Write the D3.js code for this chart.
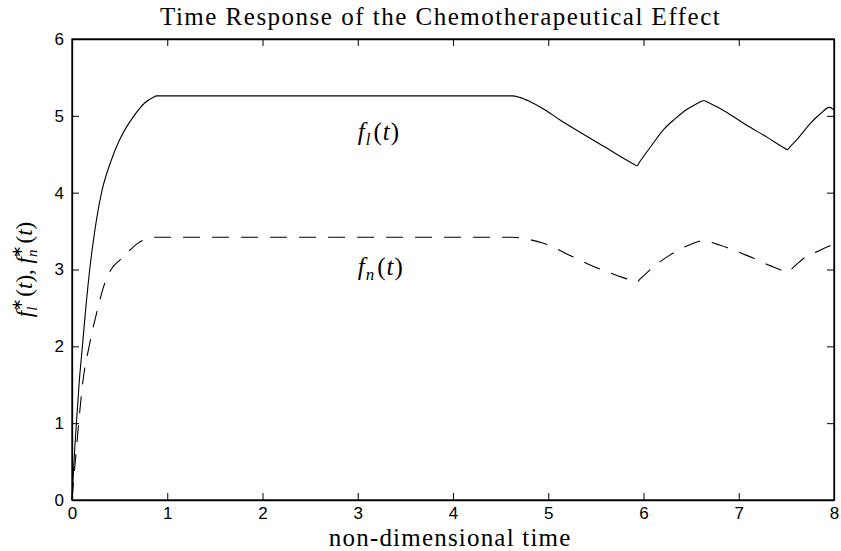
<!DOCTYPE html>
<html>
<head>
<meta charset="utf-8">
<script src="https://cdn.jsdelivr.net/npm/d3@7/dist/d3.min.js"></script>
<style>
  body { margin: 0; background: #fff; }
  svg { display: block; }
  .tick text { font-family: "Liberation Sans", Arial, sans-serif; font-size: 17px; fill: #000; }
  .serif { font-family: "Liberation Serif", "Times New Roman", serif; fill: #000; }
</style>
</head>
<body>
<svg id="chart"></svg>
<script>
// f_l(t), solid
let tL = [0, 0.015, 0.03, 0.046, 0.075, 0.109, 0.145, 0.186, 0.24, 0.31, 0.40, 0.50, 0.57, 0.64, 0.70, 0.765, 0.85, 0.89,
  4.62, 4.7, 4.8, 4.95, 5.12, 5.33, 5.6, 5.90, 5.93,
  5.96, 6.0, 6.1, 6.21, 6.33, 6.45, 6.55, 6.61, 6.635,
  6.66, 6.8, 7.08, 7.3, 7.48, 7.51,
  7.54, 7.61, 7.75, 7.86, 7.95, 8.0]
let fL = [0, 0.36, 0.70, 0.99, 1.52, 2.0, 2.5, 3.0, 3.51, 4.0, 4.38, 4.69, 4.85, 4.98, 5.08, 5.17, 5.24, 5.26,
  5.26, 5.24, 5.19, 5.09, 4.95, 4.79, 4.59, 4.37, 4.35,
  4.40, 4.47, 4.64, 4.82, 4.96, 5.08, 5.15, 5.19, 5.20,
  5.185, 5.10, 4.88, 4.72, 4.58, 4.56,
  4.60, 4.69, 4.90, 5.03, 5.11, 5.08]

// f_n(t), dashed
let tN = [0, 0.02, 0.045, 0.07, 0.116, 0.18, 0.27, 0.33, 0.41, 0.50, 0.59, 0.69, 0.79, 0.85,
  4.62, 4.8, 5.0, 5.2, 5.44, 5.68, 5.90, 5.93,
  5.96, 6.02, 6.12, 6.28, 6.39, 6.5, 6.61, 6.635,
  6.66, 6.77, 6.91, 7.03, 7.15, 7.27, 7.48, 7.51,
  7.54, 7.61, 7.71, 7.82, 7.92, 8.0]
let fN = [0, 0.3, 0.65, 1.0, 1.56, 2.0, 2.49, 2.77, 3.0, 3.12, 3.23, 3.34, 3.40, 3.42,
  3.42, 3.39, 3.32, 3.2, 3.06, 2.94, 2.845, 2.83,
  2.87, 2.94, 3.05, 3.19, 3.27, 3.33, 3.375, 3.38,
  3.375, 3.33, 3.27, 3.21, 3.15, 3.08, 2.975, 2.96,
  2.99, 3.07, 3.17, 3.23, 3.29, 3.33]

let xTicks = [0, 1, 2, 3, 4, 5, 6, 7, 8]
let yTicks = [0, 1, 2, 3, 4, 5, 6]

let width = 841, height = 551
let margin = { top: 39, right: 7, bottom: 51, left: 72 }

let svg = d3.select('#chart').attr('width', width).attr('height', height)

let x = d3.scaleLinear().domain([0, 8]).range([margin.left, width - margin.right])
let y = d3.scaleLinear().domain([0, 6]).range([height - margin.bottom, margin.top])

// axes, ticks pointing inward like matlab
let tick = 7
let fmt = d3.format('d')
svg.append('g').attr('transform', `translate(0,${y(0)})`)
  .call(d3.axisBottom(x).tickValues(xTicks).tickFormat(fmt).tickSizeInner(-tick).tickSizeOuter(0).tickPadding(7))
svg.append('g').attr('transform', `translate(0,${y(6)})`)
  .call(d3.axisTop(x).tickValues(xTicks).tickSizeInner(-tick).tickSizeOuter(0).tickFormat(''))
svg.append('g').attr('transform', `translate(${x(0)},0)`)
  .call(d3.axisLeft(y).tickValues(yTicks).tickFormat(fmt).tickSizeInner(-tick).tickSizeOuter(0).tickPadding(8))
svg.append('g').attr('transform', `translate(${x(8)},0)`)
  .call(d3.axisRight(y).tickValues(yTicks).tickSizeInner(-tick).tickSizeOuter(0).tickFormat(''))

svg.selectAll('.domain').attr('stroke', '#000').attr('stroke-width', 1.3)
svg.selectAll('.tick line').attr('stroke', '#000').attr('stroke-width', 1)

// box
svg.append('rect')
  .attr('x', x(0)).attr('y', y(6))
  .attr('width', x(8) - x(0)).attr('height', y(0) - y(6))
  .attr('fill', 'none').attr('stroke', '#000').attr('stroke-width', 1.3)

let line = d3.line().x(d => x(d[0])).y(d => y(d[1])).curve(d3.curveMonotoneX)

svg.append('path')
  .datum(d3.zip(tL, fL))
  .attr('d', line)
  .attr('fill', 'none').attr('stroke', '#000').attr('stroke-width', 1.1)
  .attr('stroke-linejoin', 'round')

svg.append('path')
  .datum(d3.zip(tN, fN))
  .attr('d', line)
  .attr('fill', 'none').attr('stroke', '#000').attr('stroke-width', 1.1)
  .attr('stroke-dasharray', '17,12')

// title and labels
svg.append('text').attr('class', 'serif')
  .attr('x', x(3.87)).attr('y', 25)
  .attr('text-anchor', 'middle').style('font-size', '25px').style('letter-spacing', '1.5px')
  .text('Time Response of the Chemotherapeutical Effect')

svg.append('text').attr('class', 'serif')
  .attr('x', x(3.97)).attr('y', 546)
  .attr('text-anchor', 'middle').style('font-size', '25px').style('letter-spacing', '1.2px')
  .text('non-dimensional time')

function fLabel(g, sub) {
  g.append('tspan').style('font-style', 'italic').text('f')
  g.append('tspan').style('font-style', 'italic').style('font-size', '17px').attr('dy', 5).text(sub)
  g.append('tspan').attr('dy', -5).attr('dx', 2).text('(')
  g.append('tspan').style('font-style', 'italic').text('t')
  g.append('tspan').text(')')
}

let lblL = svg.append('text').attr('class', 'serif').style('font-size', '25px').style('letter-spacing', '1px')
  .attr('x', x(3.0)).attr('y', y(4.69))
fLabel(lblL, 'l')
let lblN = svg.append('text').attr('class', 'serif').style('font-size', '25px').style('letter-spacing', '1px')
  .attr('x', x(3.0)).attr('y', y(2.93))
fLabel(lblN, 'n')

// y label with starred subscripts
let yl = svg.append('text').attr('class', 'serif').style('font-size', '23px')
  .attr('transform', `translate(32,${(y(0) + y(6)) / 2}) rotate(-90)`)
  .attr('text-anchor', 'middle')
function starTerm(g, sub) {
  g.append('tspan').style('font-style', 'italic').text('f')
  g.append('tspan').style('font-style', 'italic').style('font-size', '15px').attr('dy', 5).text(sub)
  g.append('tspan').style('font-size', '15px').attr('dx', sub == 'l' ? -4 : -8).attr('dy', -15).text('∗')
  g.append('tspan').attr('dy', 10).attr('dx', 1).text('(')
  g.append('tspan').style('font-style', 'italic').text('t')
  g.append('tspan').text(')')
}
starTerm(yl, 'l')
yl.append('tspan').text(',\u00a0')
starTerm(yl, 'n')
</script>
</body>
</html>
